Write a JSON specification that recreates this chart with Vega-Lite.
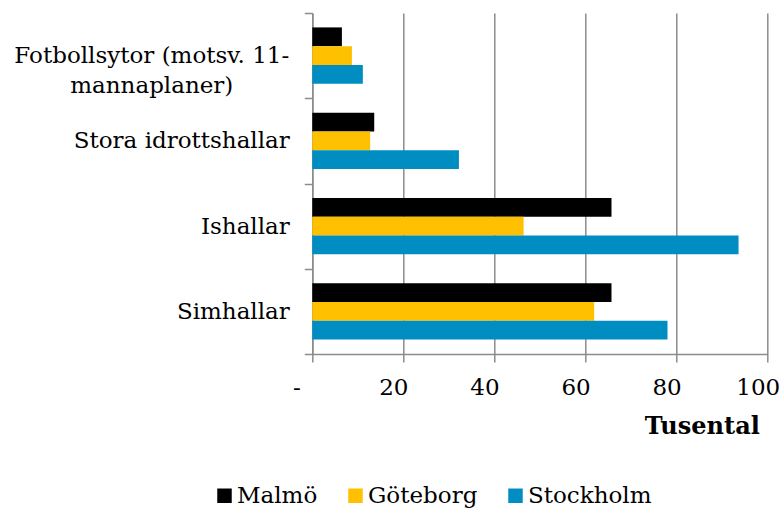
{
  "$schema": "https://vega.github.io/schema/vega-lite/v6.json",
  "autosize": "none",
  "width": 455.4,
  "height": 341,
  "padding": {"left": 312.3, "top": 13, "right": 14.3, "bottom": 154},
  "config": {"font": "DejaVu Serif", "view": {"stroke": null}},
  "data": {
    "values": [
      {"kategori": "Fotbollsytor (motsv. 11-mannaplaner)", "stad": "Malmö", "varde": 6.5},
      {"kategori": "Fotbollsytor (motsv. 11-mannaplaner)", "stad": "Göteborg", "varde": 8.7},
      {"kategori": "Fotbollsytor (motsv. 11-mannaplaner)", "stad": "Stockholm", "varde": 11.1},
      {"kategori": "Stora idrottshallar", "stad": "Malmö", "varde": 13.6},
      {"kategori": "Stora idrottshallar", "stad": "Göteborg", "varde": 12.7},
      {"kategori": "Stora idrottshallar", "stad": "Stockholm", "varde": 32.2},
      {"kategori": "Ishallar", "stad": "Malmö", "varde": 65.7},
      {"kategori": "Ishallar", "stad": "Göteborg", "varde": 46.4},
      {"kategori": "Ishallar", "stad": "Stockholm", "varde": 93.6},
      {"kategori": "Simhallar", "stad": "Malmö", "varde": 65.7},
      {"kategori": "Simhallar", "stad": "Göteborg", "varde": 61.9},
      {"kategori": "Simhallar", "stad": "Stockholm", "varde": 78.0}
    ]
  },
  "mark": {"type": "bar"},
  "encoding": {
    "y": {
      "field": "kategori",
      "type": "nominal",
      "sort": ["Fotbollsytor (motsv. 11-mannaplaner)", "Stora idrottshallar", "Ishallar", "Simhallar"],
      "scale": {"paddingInner": 0, "paddingOuter": 0},
      "title": null,
      "axis": {
        "domainColor": "#8c8c8c",
        "domainWidth": 1.5,
        "tickColor": "#8c8c8c",
        "tickWidth": 1.5,
        "tickSize": 8,
        "tickBand": "extent",
        "labelFontSize": 23,
        "labelColor": "#000000",
        "labelLineHeight": 30,
        "labelLimit": 400,
        "labelExpr": "datum.value == 'Fotbollsytor (motsv. 11-mannaplaner)' ? ['Fotbollsytor (motsv. 11-', 'mannaplaner)'] : datum.label",
        "labelAlign": {"condition": {"test": "datum.value == 'Fotbollsytor (motsv. 11-mannaplaner)'", "value": "center"}, "value": "right"},
        "labelPadding": {"condition": {"test": "datum.value == 'Fotbollsytor (motsv. 11-mannaplaner)'", "value": 153}, "value": 15}
      }
    },
    "yOffset": {
      "field": "stad",
      "type": "nominal",
      "sort": ["Malmö", "Göteborg", "Stockholm"],
      "scale": {"paddingInner": 0, "paddingOuter": 0.766}
    },
    "x": {
      "field": "varde",
      "type": "quantitative",
      "scale": {"domain": [0, 100], "nice": false},
      "title": "Tusental",
      "axis": {
        "values": [0, 20, 40, 60, 80, 100],
        "grid": true,
        "gridColor": "#8c8c8c",
        "gridWidth": 1.5,
        "domainColor": "#8c8c8c",
        "domainWidth": 1.5,
        "tickColor": "#8c8c8c",
        "tickWidth": 1.5,
        "tickSize": 8,
        "labelFontSize": 23,
        "labelColor": "#000000",
        "labelFlush": false,
        "labelPadding": 14,
        "labelOffset": {"condition": {"test": "datum.value == 0", "value": -16}, "value": -10},
        "labelExpr": "datum.value == 0 ? '-' : datum.label",
        "titleFontSize": 24,
        "titleFontWeight": "bold",
        "titleColor": "#000000",
        "titleAnchor": "end",
        "titleAlign": "right",
        "titleBaseline": "alphabetic",
        "titleX": 447,
        "titleY": 79
      }
    },
    "color": {
      "field": "stad",
      "type": "nominal",
      "sort": ["Malmö", "Göteborg", "Stockholm"],
      "scale": {"domain": ["Malmö", "Göteborg", "Stockholm"], "range": ["#000000", "#FFC000", "#008EC2"]},
      "legend": {
        "title": null,
        "orient": "none",
        "direction": "horizontal",
        "legendX": -99.3,
        "legendY": 471,
        "symbolType": "square",
        "symbolSize": 210,
        "symbolStrokeWidth": 0,
        "labelFontSize": 23,
        "labelColor": "#000000",
        "labelOffset": 1,
        "columnPadding": 26
      }
    }
  }
}
